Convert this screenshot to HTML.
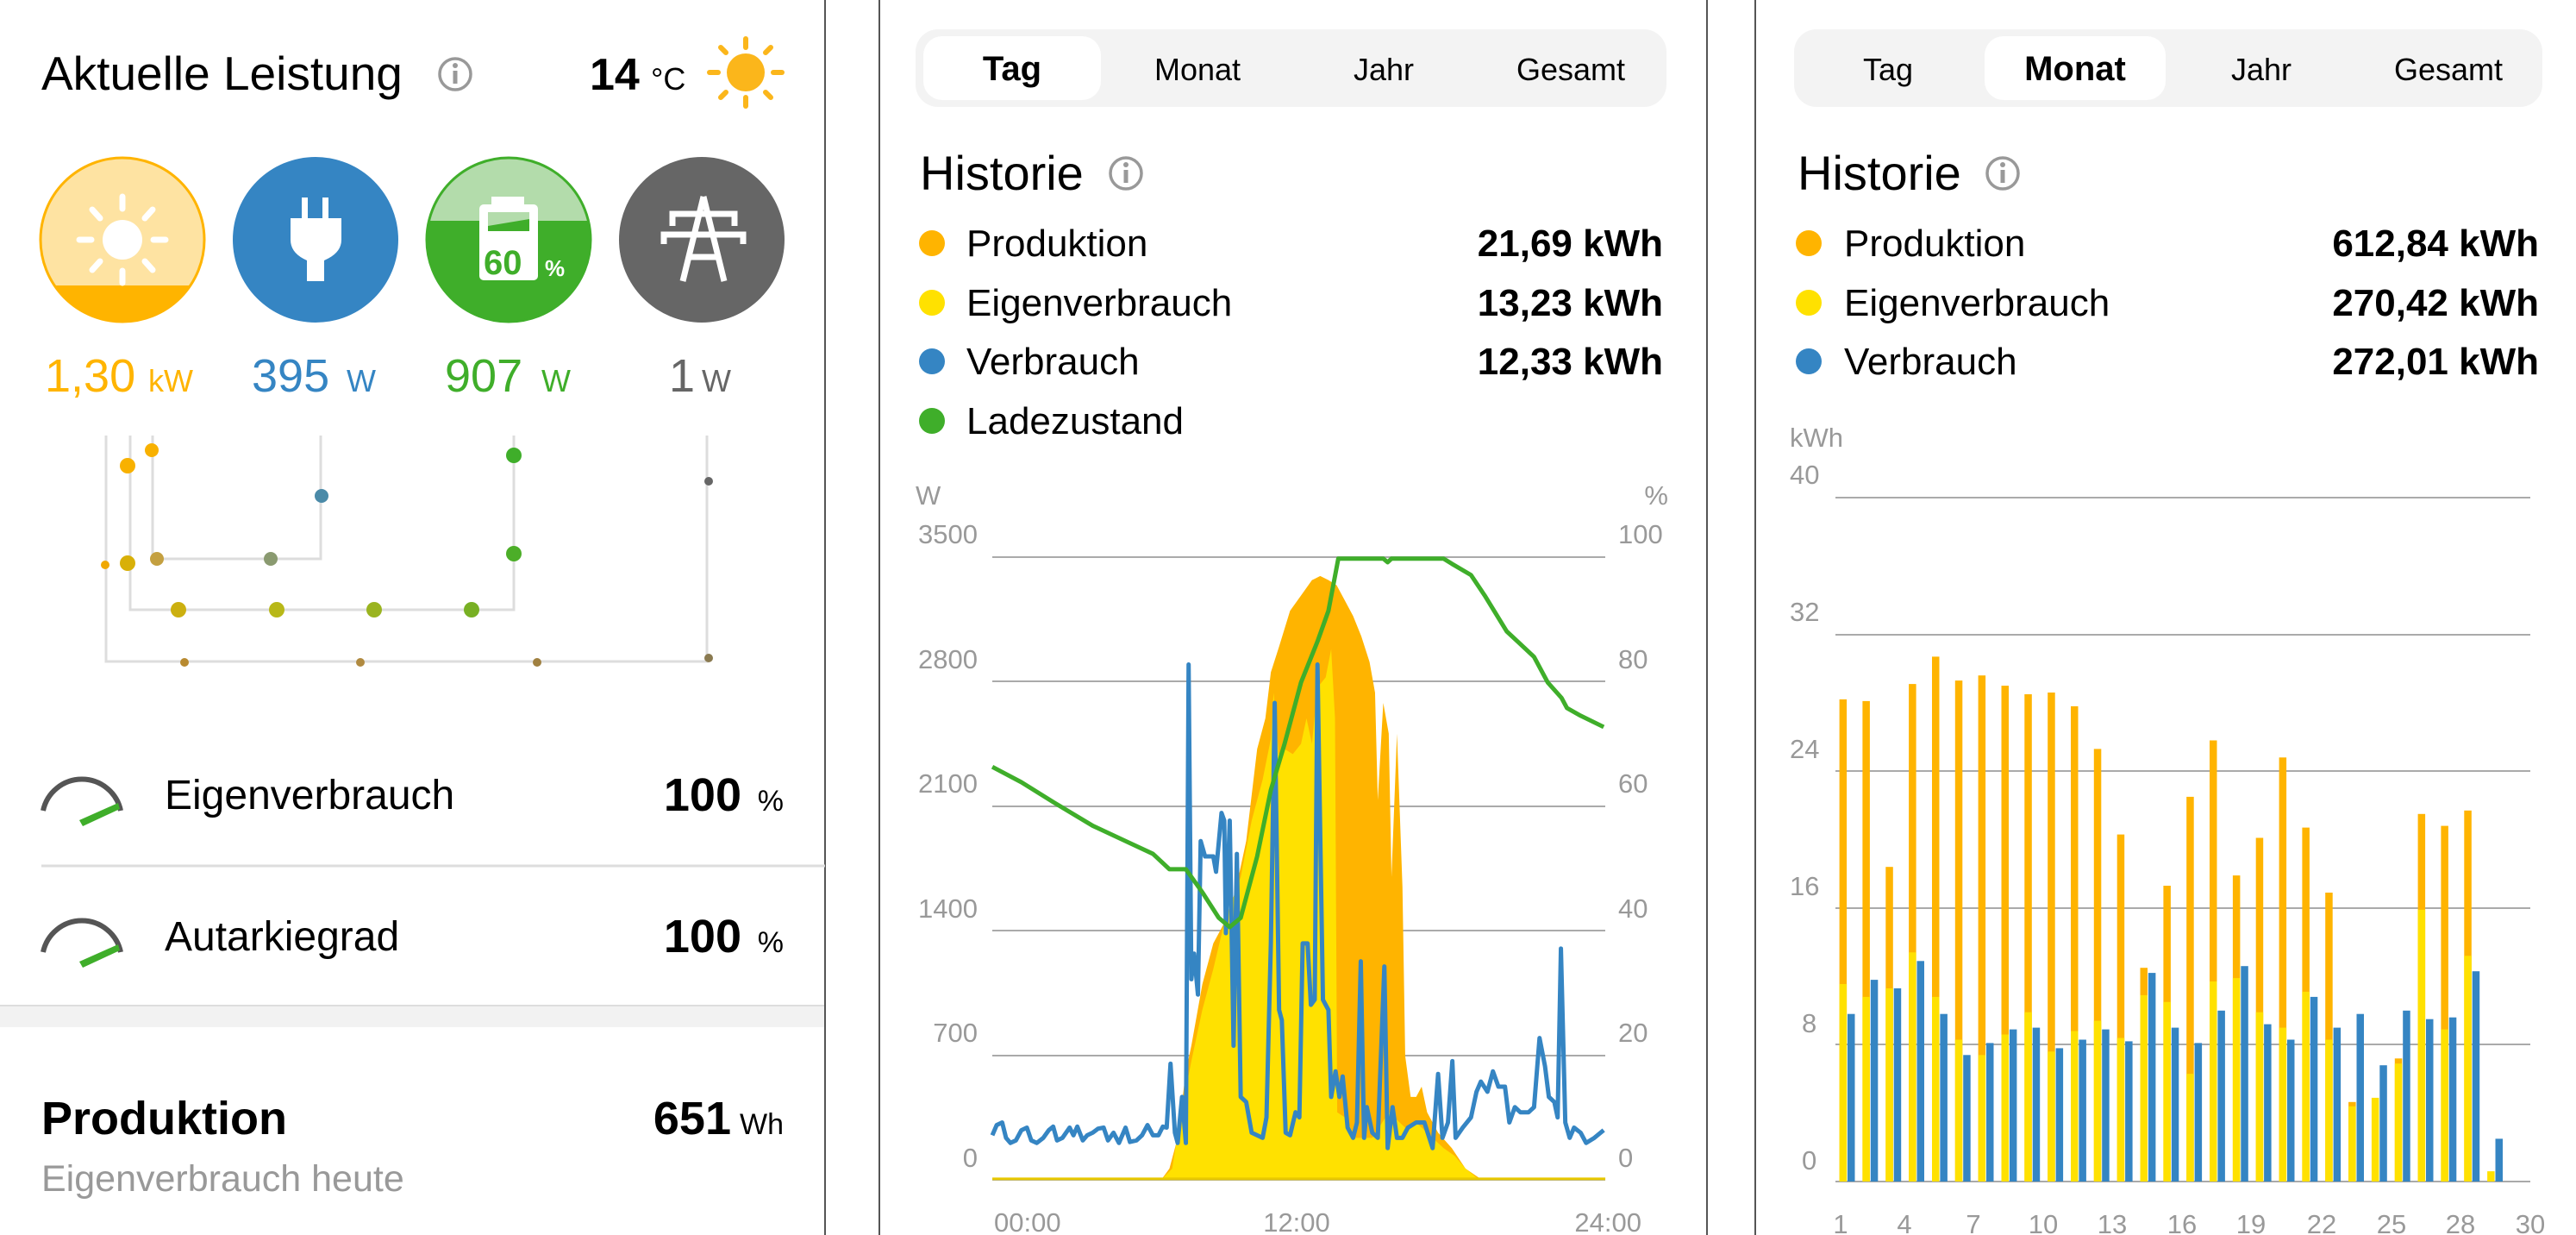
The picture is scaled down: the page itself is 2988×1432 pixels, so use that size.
<!DOCTYPE html>
<html><head><meta charset="utf-8"><style>
html,body{margin:0;padding:0;background:#fff;width:2988px;height:1432px;overflow:hidden}
svg{display:block}
text{font-family:"Liberation Sans",sans-serif}
</style></head><body>
<svg id="s" width="2988" height="1432" viewBox="0 0 2988 1432" xmlns="http://www.w3.org/2000/svg">
<rect width="2988" height="1432" fill="#fff"/>
<line x1="957" y1="0" x2="957" y2="1432" stroke="#555" stroke-width="2"/>
<line x1="1020" y1="0" x2="1020" y2="1432" stroke="#555" stroke-width="2"/>
<line x1="1980" y1="0" x2="1980" y2="1432" stroke="#555" stroke-width="2"/>
<line x1="2036" y1="0" x2="2036" y2="1432" stroke="#555" stroke-width="2"/>

<!-- LEFT PANEL -->
<text x="48" y="104" font-size="55" fill="#000">Aktuelle Leistung</text>
<circle cx="528" cy="86" r="18" fill="none" stroke="#999" stroke-width="3.5"/>
<rect x="525.5" y="82" width="5" height="15" fill="#999"/><circle cx="528" cy="76" r="3" fill="#999"/>
<text x="684" y="104" font-size="52" font-weight="bold" fill="#000">14</text>
<text x="755" y="104" font-size="36" fill="#000">°C</text>
<g stroke="#fbb61b" stroke-width="6" stroke-linecap="round">
<line x1="865" y1="45" x2="865" y2="55"/><line x1="865" y1="113" x2="865" y2="123"/>
<line x1="823" y1="84" x2="833" y2="84"/><line x1="897" y1="84" x2="907" y2="84"/>
<line x1="836" y1="55" x2="842" y2="61"/><line x1="888" y1="107" x2="894" y2="113"/>
<line x1="894" y1="55" x2="888" y2="61"/><line x1="842" y1="107" x2="836" y2="113"/>
</g>
<circle cx="865" cy="84" r="22" fill="#fbb61b"/>

<defs>
<clipPath id="c1"><circle cx="142" cy="278" r="95"/></clipPath>
<clipPath id="c3"><circle cx="590" cy="278" r="95"/></clipPath>
</defs>
<g clip-path="url(#c1)"><rect x="40" y="170" width="210" height="220" fill="#fee3a2"/><rect x="40" y="331" width="210" height="60" fill="#ffb400"/></g>
<circle cx="142" cy="278" r="95" fill="none" stroke="#ffb400" stroke-width="3"/>
<g stroke="#fff" stroke-width="7" stroke-linecap="round">
<line x1="142" y1="228" x2="142" y2="242"/><line x1="142" y1="314" x2="142" y2="328"/>
<line x1="92" y1="278" x2="106" y2="278"/><line x1="178" y1="278" x2="192" y2="278"/>
<line x1="107" y1="243" x2="116" y2="253"/><line x1="168" y1="303" x2="177" y2="313"/>
<line x1="177" y1="243" x2="168" y2="253"/><line x1="116" y1="303" x2="107" y2="313"/>
</g>
<circle cx="142" cy="278" r="23" fill="#fff"/>
<circle cx="366" cy="278" r="96" fill="#3585c3"/>
<rect x="350" y="229" width="7" height="24" fill="#fff"/><rect x="374" y="229" width="7" height="24" fill="#fff"/>
<path d="M337 253 H396 V278 Q396 292 380 300 L376 302 V326 H356 V302 L352 300 Q337 292 337 278Z" fill="#fff"/>
<g clip-path="url(#c3)"><rect x="490" y="170" width="210" height="220" fill="#b3dcab"/><rect x="490" y="256" width="210" height="140" fill="#3fae2a"/></g>
<circle cx="590" cy="278" r="95" fill="none" stroke="#3fae2a" stroke-width="3"/>
<rect x="556" y="237" width="68" height="88" rx="5" fill="#fff"/>
<rect x="570" y="228" width="38" height="10" fill="#fff"/>
<rect x="566" y="246" width="48" height="22" fill="#3fae2a"/>
<polygon points="566,246 614,246 614,254 566,262" fill="#b3dcab"/>
<text x="561" y="318" font-size="40" font-weight="bold" fill="#3fae2a">60</text>
<text x="632" y="320" font-size="26" font-weight="bold" fill="#fff">%</text>
<circle cx="814" cy="278" r="96" fill="#666"/>
<g stroke="#fff" stroke-width="7" fill="none">
<path d="M816 228 L792 326 M816 228 L840 326"/>
<path d="M780 262 V248 H852 V262"/>
<path d="M770 283 V272 H862 V283"/>
<line x1="800" y1="298" x2="832" y2="298"/>
</g>
<text x="52" y="454" font-size="54" fill="#ffb400">1,30</text>
<text x="172" y="454" font-size="36" fill="#ffb400">kW</text>
<text x="292" y="454" font-size="54" fill="#3585c3">395</text>
<text x="402" y="454" font-size="36" fill="#3585c3">W</text>
<text x="516" y="454" font-size="54" fill="#3fae2a">907</text>
<text x="628" y="454" font-size="36" fill="#3fae2a">W</text>
<text x="776" y="454" font-size="54" fill="#666">1</text>
<text x="814" y="454" font-size="36" fill="#666">W</text>

<g stroke="#ddd" stroke-width="3" fill="none">
<path d="M123 505 V767 H820 V505"/>
<path d="M151 505 V707 H596 V505"/>
<path d="M177 505 V648 H372 V505"/>
</g>
<g>
<circle cx="176" cy="522" r="8" fill="#f8b100"/>
<circle cx="148" cy="540" r="9" fill="#f8b100"/>
<circle cx="373" cy="575" r="8" fill="#4a8aa8"/>
<circle cx="596" cy="528" r="9" fill="#3fae2a"/>
<circle cx="822" cy="558" r="5" fill="#666"/>
<circle cx="122" cy="655" r="5" fill="#f0a800"/>
<circle cx="148" cy="653" r="9" fill="#d8b008"/>
<circle cx="182" cy="648" r="8" fill="#c4a040"/>
<circle cx="314" cy="648" r="8" fill="#8a9a70"/>
<circle cx="596" cy="642" r="9" fill="#4cae28"/>
<circle cx="207" cy="707" r="9" fill="#ccb010"/>
<circle cx="321" cy="707" r="9" fill="#b8b818"/>
<circle cx="434" cy="707" r="9" fill="#9ab420"/>
<circle cx="547" cy="707" r="9" fill="#78b024"/>
<circle cx="214" cy="768" r="5" fill="#b88a30"/>
<circle cx="418" cy="768" r="5" fill="#b08a40"/>
<circle cx="623" cy="768" r="5" fill="#a08040"/>
<circle cx="822" cy="763" r="5" fill="#8a7a50"/>
</g>

<g id="g1">
<path d="M50 940 A46 46 0 0 1 140 940" fill="none" stroke="#555" stroke-width="6"/>
<path d="M92 951 L137 931 L139 938 L96 958 Z" fill="#3fae2a"/>
</g>
<use href="#g1" y="164"/>
<text x="191" y="938" font-size="48" fill="#000">Eigenverbrauch</text>
<text x="860" y="940" font-size="54" font-weight="bold" fill="#000" text-anchor="end">100</text>
<text x="909" y="940" font-size="34" fill="#000" text-anchor="end">%</text>
<line x1="48" y1="1004" x2="957" y2="1004" stroke="#ddd" stroke-width="3"/>
<text x="191" y="1102" font-size="48" fill="#000">Autarkiegrad</text>
<text x="860" y="1104" font-size="54" font-weight="bold" fill="#000" text-anchor="end">100</text>
<text x="909" y="1104" font-size="34" fill="#000" text-anchor="end">%</text>
<rect x="0" y="1166" width="956" height="25" fill="#f2f2f2"/>
<line x1="0" y1="1166" x2="956" y2="1166" stroke="#ddd" stroke-width="2"/>
<text x="48" y="1315" font-size="54" font-weight="bold" fill="#000">Produktion</text>
<text x="848" y="1315" font-size="54" font-weight="bold" fill="#000" text-anchor="end">651</text>
<text x="909" y="1315" font-size="34" fill="#000" text-anchor="end">Wh</text>
<text x="48" y="1381" font-size="43" fill="#999">Eigenverbrauch heute</text>

<!-- PANEL 2 -->
<rect x="1062" y="34" width="871" height="90" rx="26" fill="#f3f3f3"/>
<rect x="1071" y="42" width="206" height="74" rx="22" fill="#fff"/>
<g font-size="36" text-anchor="middle">
<text x="1174" y="93" font-weight="bold" font-size="40">Tag</text>
<text x="1389" y="93">Monat</text><text x="1605" y="93">Jahr</text><text x="1822" y="93">Gesamt</text>
</g>
<text x="1067" y="220" font-size="56" fill="#000">Historie</text>
<circle cx="1306" cy="201" r="18" fill="none" stroke="#999" stroke-width="3.5"/>
<rect x="1303.5" y="197" width="5" height="15" fill="#999"/><circle cx="1306" cy="191" r="3" fill="#999"/>
<g font-size="44">
<circle cx="1081" cy="282" r="15" fill="#ffb400"/><text x="1121" y="297">Produktion</text><text x="1929" y="297" text-anchor="end" font-weight="bold">21,69 kWh</text>
<circle cx="1081" cy="351" r="15" fill="#ffe100"/><text x="1121" y="366">Eigenverbrauch</text><text x="1929" y="366" text-anchor="end" font-weight="bold">13,23 kWh</text>
<circle cx="1081" cy="419" r="15" fill="#3585c3"/><text x="1121" y="434">Verbrauch</text><text x="1929" y="434" text-anchor="end" font-weight="bold">12,33 kWh</text>
<circle cx="1081" cy="488" r="15" fill="#3fae2a"/><text x="1121" y="503">Ladezustand</text>
</g>
<g font-size="31" fill="#999">
<text x="1062" y="585">W</text><text x="1935" y="585" text-anchor="end">%</text>
<g text-anchor="end">
<text x="1134" y="630">3500</text><text x="1134" y="775">2800</text><text x="1134" y="919">2100</text><text x="1134" y="1064">1400</text><text x="1134" y="1208">700</text><text x="1134" y="1353">0</text>
</g>
<text x="1877" y="630">100</text><text x="1877" y="775">80</text><text x="1877" y="919">60</text><text x="1877" y="1064">40</text><text x="1877" y="1208">20</text><text x="1877" y="1353">0</text>
<text x="1153" y="1428">00:00</text><text x="1504" y="1428" text-anchor="middle">12:00</text><text x="1904" y="1428" text-anchor="end">24:00</text>
</g>
<g stroke="#aaa" stroke-width="2">
<line x1="1151" y1="646" x2="1862" y2="646"/><line x1="1151" y1="790" x2="1862" y2="790"/>
<line x1="1151" y1="935" x2="1862" y2="935"/><line x1="1151" y1="1079" x2="1862" y2="1079"/>
<line x1="1151" y1="1224" x2="1862" y2="1224"/><line x1="1151" y1="1368" x2="1862" y2="1368"/>
</g>
<g transform="matrix(0.636 0 0 0.5933 1000.3 500.6)">
<polygon fill="#ffb400" points="237,1462 545,1462 560,1440 575,1380 590,1250 600,1200 620,1080 640,1000 660,960 680,900 700,800 720,620 735,560 745,470 760,420 780,350 800,320 820,290 835,282 850,290 865,300 880,330 895,360 910,400 925,450 935,510 940,720 950,530 960,590 965,870 975,590 985,890 990,1220 1000,1300 1010,1300 1020,1280 1030,1330 1050,1370 1075,1400 1100,1440 1130,1462 1355,1462"/>
<polygon fill="#ffe100" points="237,1462 545,1462 565,1440 580,1340 600,1230 620,1130 640,1050 660,960 690,870 710,760 730,680 745,600 750,510 760,640 770,620 785,630 800,610 810,560 820,610 830,500 845,480 855,425 862,560 866,1330 880,1340 900,1380 930,1380 960,1330 990,1360 1010,1350 1040,1380 1060,1400 1080,1415 1100,1440 1125,1462 1355,1462"/>
<line x1="237" y1="1460" x2="1355" y2="1460" stroke="#e8c800" stroke-width="3" vector-effect="non-scaling-stroke"/>
<polyline fill="none" stroke="#3585c3" stroke-width="5" stroke-linejoin="round" vector-effect="non-scaling-stroke" points="237,1375 245,1355 255,1350 262,1380 270,1390 280,1385 290,1365 300,1360 308,1385 318,1390 330,1380 340,1365 348,1358 355,1385 365,1380 378,1360 385,1375 392,1358 402,1385 410,1375 420,1370 430,1362 440,1360 448,1385 458,1370 468,1390 480,1360 488,1388 500,1385 510,1375 520,1355 530,1375 540,1375 548,1358 555,1360 562,1235 570,1370 575,1390 583,1300 590,1390 595,455 600,1070 605,1020 612,1100 617,800 625,830 640,830 645,860 655,745 660,760 663,980 670,760 677,1200 683,825 690,1300 700,1310 710,1370 730,1380 737,1340 745,1000 752,530 760,1130 765,1150 772,1370 780,1375 790,1330 797,1340 803,1000 812,1000 818,1120 825,1110 830,455 840,1110 850,1130 855,1300 863,1250 870,1300 876,1260 885,1360 895,1380 902,1350 909,1035 915,1380 920,1320 930,1370 940,1380 952,1045 958,1400 967,1320 975,1380 985,1380 995,1360 1010,1350 1025,1350 1040,1400 1050,1255 1058,1380 1068,1350 1076,1230 1082,1380 1095,1360 1110,1340 1120,1290 1128,1270 1140,1290 1150,1250 1160,1280 1172,1280 1180,1350 1190,1320 1200,1330 1215,1330 1225,1320 1235,1185 1245,1240 1252,1300 1262,1310 1268,1340 1274,1010 1282,1350 1290,1380 1298,1360 1310,1370 1320,1390 1335,1380 1352,1365"/>
<polyline fill="none" stroke="#3fae2a" stroke-width="5" stroke-linejoin="round" vector-effect="non-scaling-stroke" points="237,655 290,685 350,725 420,770 480,800 530,825 560,855 590,855 620,900 650,950 670,968 690,950 720,830 745,700 770,610 800,490 830,410 850,350 868,248 950,248 958,255 965,248 1060,248 1075,258 1110,280 1135,320 1175,390 1195,410 1225,440 1250,490 1275,520 1285,540 1310,555 1352,577"/>
</g>

<!-- PANEL 3 -->
<rect x="2081" y="34" width="868" height="90" rx="26" fill="#f3f3f3"/>
<rect x="2302" y="42" width="210" height="74" rx="22" fill="#fff"/>
<g font-size="36" text-anchor="middle">
<text x="2190" y="93">Tag</text>
<text x="2407" y="93" font-weight="bold" font-size="40">Monat</text><text x="2623" y="93">Jahr</text><text x="2840" y="93">Gesamt</text>
</g>
<text x="2085" y="220" font-size="56" fill="#000">Historie</text>
<circle cx="2323" cy="201" r="18" fill="none" stroke="#999" stroke-width="3.5"/>
<rect x="2320.5" y="197" width="5" height="15" fill="#999"/><circle cx="2323" cy="191" r="3" fill="#999"/>
<g font-size="44">
<circle cx="2098" cy="282" r="15" fill="#ffb400"/><text x="2139" y="297">Produktion</text><text x="2945" y="297" text-anchor="end" font-weight="bold">612,84 kWh</text>
<circle cx="2098" cy="351" r="15" fill="#ffe100"/><text x="2139" y="366">Eigenverbrauch</text><text x="2945" y="366" text-anchor="end" font-weight="bold">270,42 kWh</text>
<circle cx="2098" cy="419" r="15" fill="#3585c3"/><text x="2139" y="434">Verbrauch</text><text x="2945" y="434" text-anchor="end" font-weight="bold">272,01 kWh</text>
</g>
<g font-size="31" fill="#999">
<text x="2076" y="518">kWh</text>
<text x="2076" y="561">40</text><text x="2076" y="720">32</text><text x="2076" y="879">24</text><text x="2076" y="1038">16</text><text x="2090" y="1197">8</text><text x="2090" y="1356">0</text>
</g>
<g stroke="#aaa" stroke-width="2">
<line x1="2129" y1="577" x2="2935" y2="577"/><line x1="2129" y1="736" x2="2935" y2="736"/>
<line x1="2129" y1="894" x2="2935" y2="894"/><line x1="2129" y1="1053" x2="2935" y2="1053"/>
<line x1="2129" y1="1211" x2="2935" y2="1211"/><line x1="2129" y1="1370" x2="2935" y2="1370"/>
</g>
<g id="bars"></g>
<g font-size="31" fill="#999" text-anchor="middle">
<text x="2135" y="1430">1</text><text x="2209" y="1430">4</text><text x="2289" y="1430">7</text><text x="2370" y="1430">10</text><text x="2450" y="1430">13</text><text x="2531" y="1430">16</text><text x="2611" y="1430">19</text><text x="2693" y="1430">22</text><text x="2774" y="1430">25</text><text x="2854" y="1430">28</text><text x="2935" y="1430">30</text>
</g>
</svg>
<script>
var O=[28.2,28.1,18.4,29.1,30.7,29.3,29.6,29.0,28.5,28.6,27.8,25.3,20.3,12.5,17.3,22.5,25.8,17.9,20.1,24.8,20.7,16.9,4.65,0,7.2,21.5,20.8,21.7,0];
var Y=[11.55,10.8,11.3,13.4,10.8,8.3,7.4,8.6,9.9,7.6,8.8,9.4,8.4,10.9,10.5,6.3,11.7,11.9,9.9,9.0,11.1,8.3,4.4,4.9,6.9,15.9,8.9,13.2,0.6];
var B=[9.8,11.8,11.3,12.9,9.8,7.4,8.1,8.9,9.0,7.8,8.3,8.9,8.2,12.2,9.0,8.1,10.0,12.6,9.2,8.3,10.8,9.0,9.8,6.8,10.0,9.5,9.6,12.3,2.5];
var g=document.getElementById('bars'),h='';
function r(x,y1,y2,c){return '<rect x="'+x.toFixed(1)+'" y="'+y1.toFixed(1)+'" width="8.5" height="'+(y2-y1).toFixed(1)+'" fill="'+c+'"/>';}
var y0=1370,u=793/40;
for(var i=0;i<29;i++){var xo=2133.6+26.84*i,xb=2143+26.84*i;
 if(O[i]>0)h+=r(xo,y0-O[i]*u,y0,'#ffb400');
 h+=r(xo,y0-Y[i]*u,y0,'#ffe100');
 h+=r(xb,y0-B[i]*u,y0,'#3585c3');}
g.innerHTML=h;
</script>
</body></html>
